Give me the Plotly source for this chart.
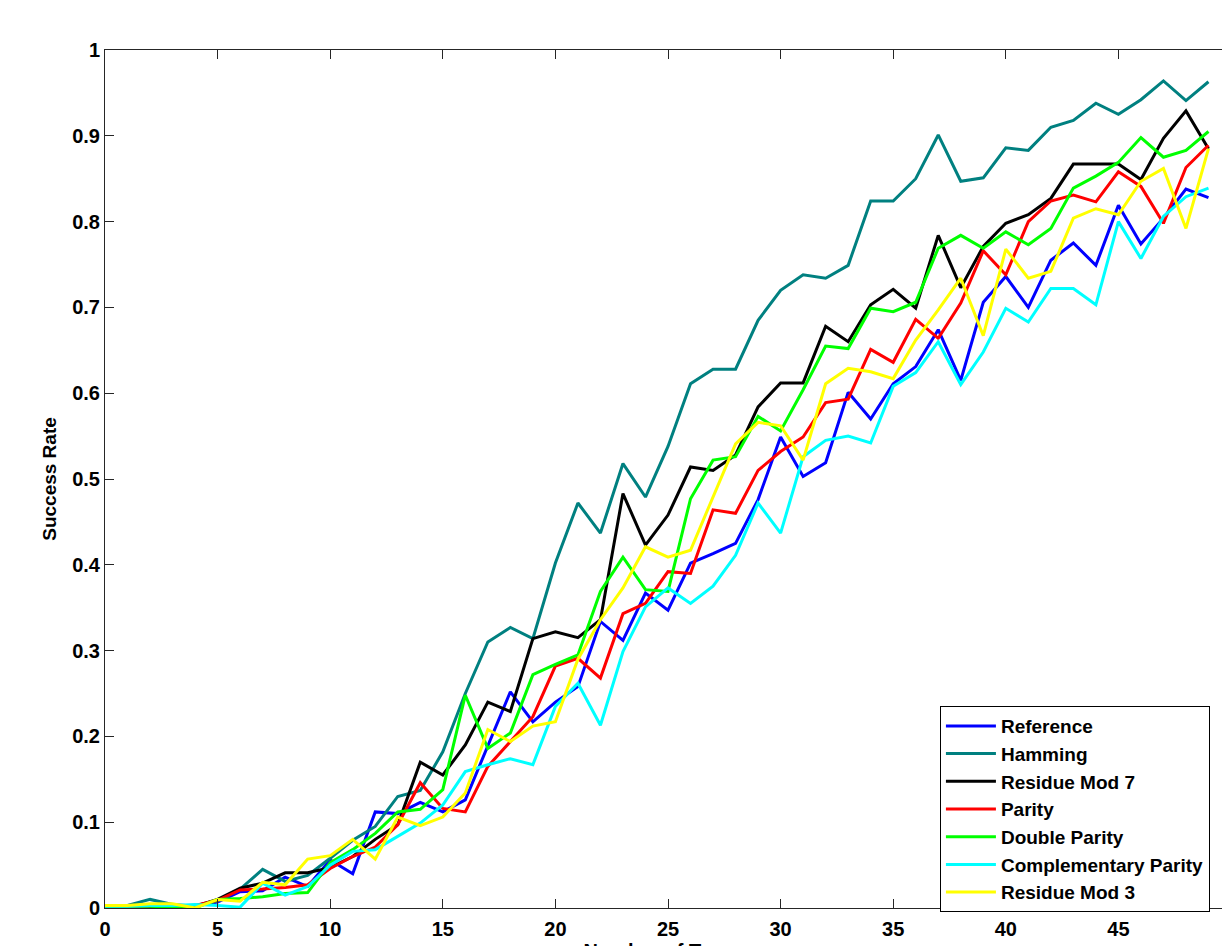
import plotly.graph_objects as go

traces_x = list(range(50))

reference = [0, 0.0, 0.002, 0.003, 0.003, 0.007, 0.019, 0.02, 0.036, 0.025,
             0.056, 0.04, 0.112, 0.11, 0.123, 0.112, 0.126, 0.188, 0.252, 0.217,
             0.24, 0.258, 0.334, 0.312, 0.367, 0.347, 0.402, 0.413, 0.425, 0.476,
             0.549, 0.503, 0.519, 0.601, 0.57, 0.611, 0.631, 0.674, 0.615, 0.706,
             0.736, 0.70, 0.755, 0.775, 0.749, 0.819, 0.774, 0.804, 0.838, 0.828]

hamming = [0, 0.003, 0.01, 0.004, 0.002, 0.008, 0.022, 0.045, 0.031, 0.038,
           0.058, 0.079, 0.095, 0.13, 0.137, 0.182, 0.25, 0.31, 0.327, 0.314,
           0.402, 0.472, 0.437, 0.518, 0.479, 0.538, 0.611, 0.628, 0.628, 0.685,
           0.72, 0.738, 0.734, 0.749, 0.824, 0.824, 0.85, 0.901, 0.847, 0.851,
           0.886, 0.883, 0.91, 0.918, 0.938, 0.925, 0.942, 0.964, 0.941, 0.963]

residue_mod7 = [0, 0, 0, 0, 0.002, 0.01, 0.023, 0.029, 0.041, 0.041,
                0.047, 0.06, 0.08, 0.097, 0.17, 0.155, 0.19, 0.24, 0.229, 0.314,
                0.322, 0.315, 0.336, 0.483, 0.423, 0.458, 0.514, 0.51, 0.528, 0.584,
                0.612, 0.612, 0.678, 0.66, 0.703, 0.721, 0.699, 0.784, 0.723, 0.771,
                0.798, 0.808, 0.827, 0.867, 0.867, 0.867, 0.849, 0.897, 0.929, 0.885]

parity = [0, 0, 0.002, 0.002, 0.003, 0.009, 0.021, 0.022, 0.024, 0.027,
          0.046, 0.06, 0.071, 0.097, 0.146, 0.116, 0.112, 0.165, 0.194, 0.223,
          0.282, 0.291, 0.268, 0.343, 0.355, 0.392, 0.39, 0.464, 0.46, 0.51,
          0.532, 0.549, 0.589, 0.593, 0.651, 0.636, 0.686, 0.664, 0.705, 0.766,
          0.738, 0.80, 0.824, 0.831, 0.823, 0.858, 0.841, 0.798, 0.863, 0.889]

double_parity = [0.002, 0.002, 0.002, 0.001, 0.0, 0.01, 0.011, 0.013, 0.017, 0.018,
                 0.053, 0.068, 0.087, 0.112, 0.115, 0.138, 0.248, 0.186, 0.204, 0.272,
                 0.284, 0.295, 0.369, 0.409, 0.371, 0.369, 0.477, 0.522, 0.526, 0.573,
                 0.556, 0.604, 0.655, 0.652, 0.699, 0.695, 0.706, 0.769, 0.784, 0.769,
                 0.788, 0.773, 0.792, 0.839, 0.853, 0.869, 0.898, 0.875, 0.883, 0.905]

complementary_parity = [0.002, 0.002, 0.003, 0.003, 0.004, 0.003, 0.001, 0.029, 0.015, 0.025,
                        0.05, 0.066, 0.068, 0.083, 0.099, 0.12, 0.159, 0.167, 0.174, 0.167,
                        0.235, 0.262, 0.213, 0.299, 0.351, 0.373, 0.355, 0.375, 0.411, 0.472,
                        0.437, 0.526, 0.545, 0.55, 0.542, 0.608, 0.624, 0.66, 0.61, 0.648,
                        0.699, 0.683, 0.722, 0.722, 0.703, 0.80, 0.757, 0.806, 0.829, 0.839]

residue_mod3 = [0.003, 0.003, 0.005, 0.005, 0.0, 0.01, 0.008, 0.03, 0.027, 0.057,
                0.061, 0.08, 0.057, 0.106, 0.096, 0.106, 0.134, 0.208, 0.194, 0.212,
                0.217, 0.29, 0.336, 0.373, 0.421, 0.409, 0.417, 0.479, 0.541, 0.566,
                0.562, 0.522, 0.611, 0.629, 0.625, 0.617, 0.662, 0.697, 0.734, 0.667,
                0.768, 0.734, 0.742, 0.804, 0.815, 0.808, 0.847, 0.862, 0.792, 0.885]

series_names = ["Reference", "Hamming", "Residue Mod 7", "Parity", "Double Parity",
                "Complementary Parity", "Residue Mod 3"]
series_values = [reference, hamming, residue_mod7, parity, double_parity,
                 complementary_parity, residue_mod3]
series_colors = ["#0000FF", "#008080", "#000000", "#FF0000", "#00FF00", "#00FFFF", "#FFFF00"]

FONT = "Liberation Sans, Arial, sans-serif"
AXIS_COLOR = "#262626"

fig = go.Figure()
for name, vals, col in zip(series_names, series_values, series_colors):
    fig.add_trace(go.Scatter(x=traces_x, y=vals, mode="lines", name=name,
                             line=dict(color=col, width=3)))

# The figure is a little larger than the 1222x946 window, like the cropped original:
# the plot area runs from x=105 to x=1231 and from y=50 to y=908.
fig.update_layout(
    width=1240, height=962,
    margin=dict(l=105, r=9, t=50, b=54, autoexpand=False),
    paper_bgcolor="white", plot_bgcolor="white",
    font=dict(family=FONT, size=20, color="black", weight="bold"),
    showlegend=True,
    legend=dict(x=0.7415, y=0.2354, xanchor="left", yanchor="top",
                bgcolor="white", bordercolor="black", borderwidth=1,
                font=dict(family=FONT, size=19, color="black", weight="bold"),
                itemwidth=50, tracegroupgap=0),
)
fig.update_xaxes(range=[0, 50], dtick=5, tick0=0, showgrid=False, zeroline=False,
                 showline=True, linecolor=AXIS_COLOR, linewidth=1, mirror="ticks",
                 ticks="inside", ticklen=9, tickcolor=AXIS_COLOR, ticklabelstandoff=3,
                 tickfont=dict(family=FONT, size=20, color="black", weight="bold"),
                 title=dict(text="Number of Traces", standoff=6,
                            font=dict(family=FONT, size=20, color="black", weight="bold")))
fig.update_yaxes(range=[0, 1], dtick=0.1, tick0=0, showgrid=False, zeroline=False,
                 showline=True, linecolor=AXIS_COLOR, linewidth=1, mirror="ticks",
                 ticks="inside", ticklen=9, tickcolor=AXIS_COLOR,
                 tickfont=dict(family=FONT, size=20, color="black", weight="bold"),
                 title=dict(text="Success Rate", standoff=10,
                            font=dict(family=FONT, size=19, color="black", weight="bold")))

fig.write_html(
    "out.html",
    config={"displayModeBar": False},
    post_script="document.body.style.margin='0px';"
                "document.documentElement.style.overflow='hidden';"
                "document.body.style.overflow='hidden';",
)
